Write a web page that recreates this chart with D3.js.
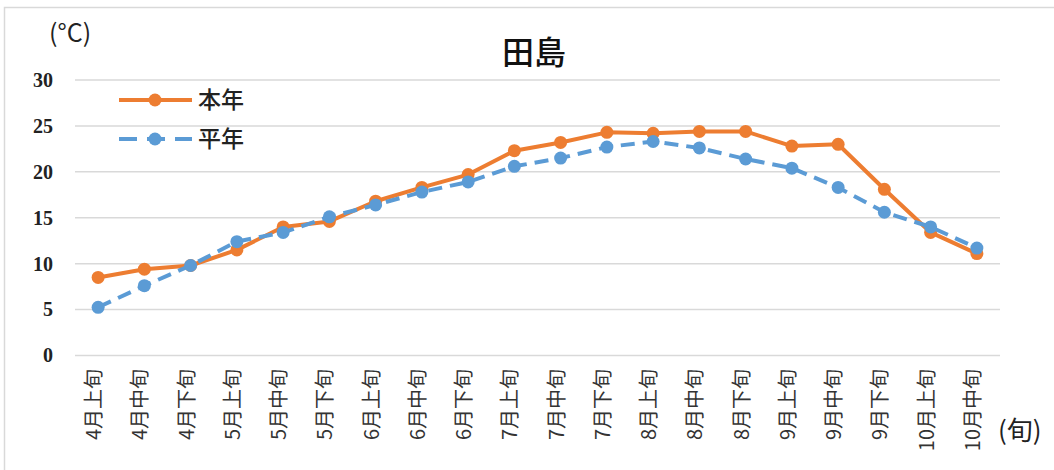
<!DOCTYPE html>
<html>
<head>
<meta charset="utf-8">
<script src="https://cdn.jsdelivr.net/npm/d3@7"></script>
<style>
  html, body { margin: 0; padding: 0; background: #fff; }
  svg { display: block; }
</style>
</head>
<body>
<svg id="chart" width="1054" height="470"></svg>
<script>
const categories = ["4月上旬","4月中旬","4月下旬","5月上旬","5月中旬","5月下旬","6月上旬","6月中旬","6月下旬","7月上旬","7月中旬","7月下旬","8月上旬","8月中旬","8月下旬","9月上旬","9月中旬","9月下旬","10月上旬","10月中旬"];
const thisYear = [8.5, 9.4, 9.8, 11.5, 14.0, 14.6, 16.8, 18.3, 19.7, 22.3, 23.2, 24.3, 24.2, 24.4, 24.4, 22.8, 23.0, 18.1, 13.4, 11.1];
const normalYear = [5.25, 7.6, 9.8, 12.4, 13.4, 15.1, 16.4, 17.8, 18.9, 20.6, 21.5, 22.7, 23.3, 22.6, 21.4, 20.4, 18.3, 15.6, 14.0, 11.7];
const yTicks = [0, 5, 10, 15, 20, 25, 30];
const seriesNames = ["本年", "平年"];
const title = "田島";
const yUnit = "(°C)";
const xUnit = "(旬)";

const svg = d3.select("#chart");
const orange = "#ED7D31", blue = "#5B9BD5", grid = "#d9d9d9";

// outer border
svg.append("path")
  .attr("d", "M4.5,480 L4.5,7.5 L1060,7.5")
  .attr("fill", "none").attr("stroke", grid).attr("stroke-width", 1.5);

const x = d3.scaleBand().domain(categories).range([75, 1000]);
const y = d3.scaleLinear().domain([0, 30]).range([355.5, 80]);

// gridlines
svg.append("g").selectAll("line").data(yTicks).join("line")
  .attr("x1", 75).attr("x2", 1000)
  .attr("y1", d => y(d)).attr("y2", d => y(d))
  .attr("stroke", grid).attr("stroke-width", 1.5);

// y axis labels
const yAxis = d3.axisLeft(y).tickValues(yTicks).tickSize(0).tickPadding(0);
const yg = svg.append("g").attr("transform", "translate(53,0)").call(yAxis);
yg.select(".domain").remove();
yg.selectAll("text")
  .attr("font-family", "'Liberation Serif', serif")
  .attr("font-weight", "bold")
  .attr("font-size", 20)
  .attr("fill", "#222");

// x axis labels
const xAxis = d3.axisBottom(x).tickSize(0).tickPadding(0);
const xg = svg.append("g").attr("transform", "translate(0,369)").call(xAxis);
xg.select(".domain").remove();
xg.selectAll("text")
  .attr("font-family", "'Noto Sans CJK JP', sans-serif")
  .attr("font-size", 20)
  .attr("fill", "#333")
  .attr("text-anchor", "end")
  .attr("transform", "rotate(-90)")
  .attr("x", 0).attr("y", -4)
  .attr("dy", "0.35em");

const cx = d => x(d) + x.bandwidth() / 2;

function drawSeries(values, color, dash) {
  const line = d3.line().x((d, i) => cx(categories[i])).y(d => y(d));
  svg.append("path").datum(values)
    .attr("d", line)
    .attr("fill", "none").attr("stroke", color).attr("stroke-width", 4)
    .attr("stroke-dasharray", dash).attr("stroke-linejoin", "round");
  svg.append("g").selectAll("circle").data(values).join("circle")
    .attr("cx", (d, i) => cx(categories[i])).attr("cy", d => y(d))
    .attr("r", 6.5).attr("fill", color);
}
drawSeries(thisYear, orange, null);
drawSeries(normalYear, blue, "14,8");

// legend
const legend = [
  {name: seriesNames[0], color: orange, dash: null, y: 100},
  {name: seriesNames[1], color: blue, dash: "14,8", y: 139}
];
legend.forEach(l => {
  svg.append("line").attr("x1", 119).attr("x2", 192).attr("y1", l.y).attr("y2", l.y)
    .attr("stroke", l.color).attr("stroke-width", 4).attr("stroke-dasharray", l.dash ? "18,10" : null);
  svg.append("circle").attr("cx", 155).attr("cy", l.y).attr("r", 6.5).attr("fill", l.color);
  svg.append("text").attr("x", 198).attr("y", l.y).attr("dy", "0.35em")
    .attr("font-family", "'Noto Sans CJK JP', sans-serif").attr("font-weight", 500)
    .attr("font-size", 23).attr("fill", "#222").text(l.name);
});

// title
svg.append("text").attr("x", 534).attr("y", 53).attr("dy", "0.35em")
  .attr("text-anchor", "middle")
  .attr("font-family", "'Noto Sans CJK JP', sans-serif").attr("font-weight", 500)
  .attr("font-size", 32).attr("fill", "#111").text(title);

// units
svg.append("text").attr("x", 49).attr("y", 33).attr("dy", "0.35em")
  .attr("font-family", "'Noto Sans CJK JP', sans-serif")
  .attr("font-size", 25).attr("fill", "#222").text(yUnit);
svg.append("text").attr("x", 998).attr("y", 431).attr("dy", "0.35em")
  .attr("font-family", "'Noto Sans CJK JP', sans-serif")
  .attr("font-size", 26).attr("fill", "#222").text(xUnit);
</script>
</body>
</html>
